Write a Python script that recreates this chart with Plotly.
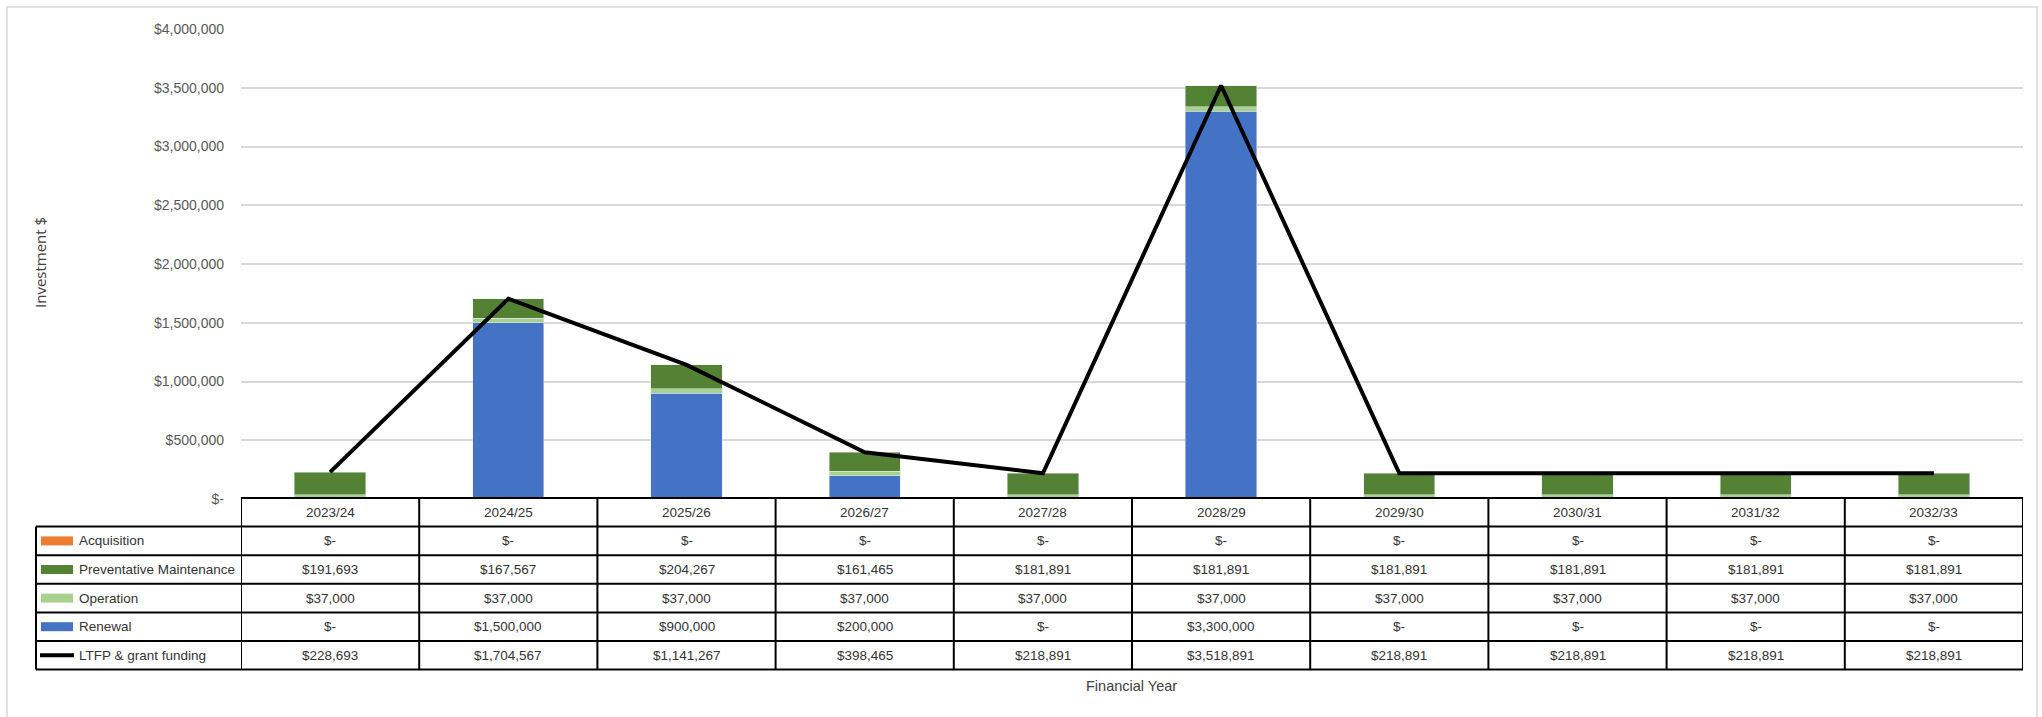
import plotly.graph_objects as go

# Financial years and investment components
years = ["2023/24", "2024/25", "2025/26", "2026/27", "2027/28",
         "2028/29", "2029/30", "2030/31", "2031/32", "2032/33"]
acquisition = [0, 0, 0, 0, 0, 0, 0, 0, 0, 0]
prev_maint = [191693, 167567, 204267, 161465, 181891, 181891, 181891, 181891, 181891, 181891]
operation = [37000, 37000, 37000, 37000, 37000, 37000, 37000, 37000, 37000, 37000]
renewal = [0, 1500000, 900000, 200000, 0, 3300000, 0, 0, 0, 0]
ltfp = [228693, 1704567, 1141267, 398465, 218891, 3518891, 218891, 218891, 218891, 218891]

y_ticks = [0, 500000, 1000000, 1500000, 2000000, 2500000, 3000000, 3500000, 4000000]

C_ACQ = "#ED7D31"
C_PM = "#548235"
C_OP = "#A9D18E"
C_REN = "#4472C4"
C_LINE = "#000000"

W, H = 2042, 717
L, R, T, B = 241, 19, 29, 218
PW, PH = W - L - R, H - T - B
Y0 = H - B  # pixel row of the zero line

FONT = "Liberation Sans Narrow, Arial Narrow, Liberation Sans, Arial, sans-serif"
TXT = "#333333"


def px_x(p):
    return (p - L) / PW


def px_y(p):
    return (Y0 - p) / PH


def money(v):
    return "$-" if v == 0 else "${:,.0f}".format(v)


fig = go.Figure()
fig.add_trace(go.Bar(x=years, y=acquisition, name="Acquisition", marker_color=C_ACQ))
fig.add_trace(go.Bar(x=years, y=renewal, name="Renewal", marker_color=C_REN))
fig.add_trace(go.Bar(x=years, y=operation, name="Operation", marker_color=C_OP))
fig.add_trace(go.Bar(x=years, y=prev_maint, name="Preventative Maintenance", marker_color=C_PM))
fig.add_trace(go.Scatter(x=years, y=ltfp, mode="lines", name="LTFP & grant funding",
                         line=dict(color=C_LINE, width=4)))

shapes = []
annotations = []

# data table underneath the plot
row_bounds = [498, 526.6, 555.2, 583.8, 612.4, 641, 669.6]
rows = [
    ("Acquisition", acquisition, C_ACQ, "bar"),
    ("Preventative Maintenance", prev_maint, C_PM, "bar"),
    ("Operation", operation, C_OP, "bar"),
    ("Renewal", renewal, C_REN, "bar"),
    ("LTFP & grant funding", ltfp, C_LINE, "line"),
]
border = dict(color="#000000", width=2)
tbl_left = 36
cell_font = dict(family=FONT, size=13.5, color=TXT)

# header row (years)
for i, yr in enumerate(years):
    annotations.append(dict(x=i, xref="x", y=px_y((row_bounds[0] + row_bounds[1]) / 2), yref="paper",
                            text=yr, showarrow=False, xanchor="center", yanchor="middle",
                            font=cell_font))

# horizontal rules
shapes.append(dict(type="line", xref="paper", yref="paper", x0=0, x1=1,
                   y0=px_y(row_bounds[0]), y1=px_y(row_bounds[0]), line=border))
for rb in row_bounds[1:]:
    shapes.append(dict(type="line", xref="paper", yref="paper", x0=px_x(tbl_left), x1=1,
                       y0=px_y(rb), y1=px_y(rb), line=border))
# vertical rules
shapes.append(dict(type="line", xref="paper", yref="paper", x0=px_x(tbl_left), x1=px_x(tbl_left),
                   y0=px_y(row_bounds[1]), y1=px_y(row_bounds[-1]), line=border))
for k in range(len(years) + 1):
    shapes.append(dict(type="line", xref="x", yref="paper", x0=k - 0.5, x1=k - 0.5,
                       y0=px_y(row_bounds[0]), y1=px_y(row_bounds[-1]), line=border))

for r, (label, vals, col, kind) in enumerate(rows):
    top, bot = row_bounds[r + 1], row_bounds[r + 2]
    mid = (top + bot) / 2
    if kind == "bar":
        shapes.append(dict(type="rect", xref="paper", yref="paper", x0=px_x(41), x1=px_x(73),
                           y0=px_y(mid - 4.5), y1=px_y(mid + 4.5), fillcolor=col, line=dict(width=0)))
    else:
        shapes.append(dict(type="line", xref="paper", yref="paper", x0=px_x(40), x1=px_x(74),
                           y0=px_y(mid), y1=px_y(mid), line=dict(color=col, width=4)))
    annotations.append(dict(x=px_x(77), xref="paper", y=px_y(mid), yref="paper", text=label,
                            showarrow=False, xanchor="left", yanchor="middle", font=cell_font))
    for i, v in enumerate(vals):
        annotations.append(dict(x=i, xref="x", y=px_y(mid), yref="paper", text=money(v),
                                showarrow=False, xanchor="center", yanchor="middle", font=cell_font))

# axis titles
annotations.append(dict(x=px_x(40), xref="paper", y=px_y(263), yref="paper", text="Investment $",
                        textangle=-90, showarrow=False, xanchor="center", yanchor="middle",
                        font=dict(family="Open Sans, sans-serif", size=15, color="#404040")))
annotations.append(dict(x=px_x(1131), xref="paper", y=px_y(686), yref="paper", text="Financial Year",
                        showarrow=False, xanchor="center", yanchor="middle",
                        font=dict(family=FONT, size=14.5, color="#404040")))

# chart frame
shapes.append(dict(type="rect", xref="paper", yref="paper", x0=px_x(7), x1=px_x(2037),
                   y0=px_y(730), y1=px_y(7), line=dict(color="#D9D9D9", width=1.5), layer="below"))

fig.update_layout(
    width=W, height=H,
    margin=dict(l=L, r=R, t=T, b=B),
    barmode="stack", bargap=0.6,
    showlegend=False,
    plot_bgcolor="white", paper_bgcolor="white",
    shapes=shapes, annotations=annotations,
    xaxis=dict(range=[-0.5, len(years) - 0.5], showticklabels=False, showgrid=False,
               zeroline=False, showline=False, ticks=""),
    yaxis=dict(range=[0, 4000000], tickvals=y_ticks, ticktext=[money(v) for v in y_ticks],
               showgrid=True, gridcolor="#D9D9D9", gridwidth=1.5, zeroline=False, showline=False,
               ticks="", ticklabelstandoff=16,
               tickfont=dict(family=FONT, size=14, color="#595959")),
)

fig.write_html("out.html")
